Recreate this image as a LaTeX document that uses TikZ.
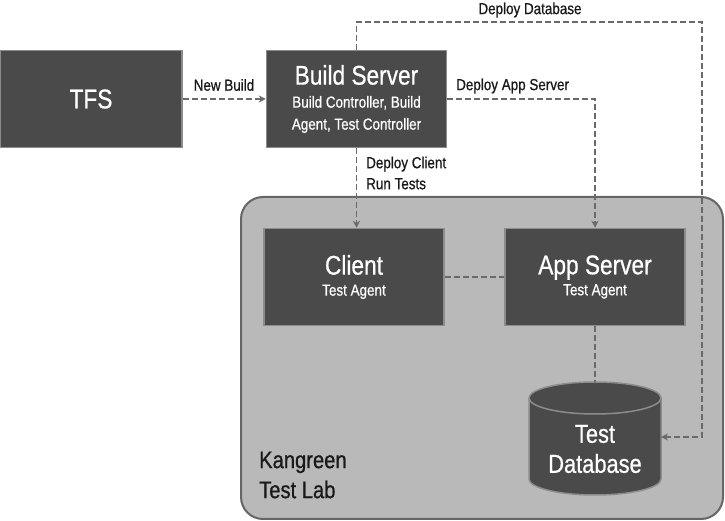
\documentclass[tikz,border=0pt]{standalone}
\usepackage{fontspec}
\setmainfont{Liberation Sans}[FakeStretch=0.84,FakeBold=0.7]
\usetikzlibrary{arrows.meta}

\definecolor{boxfill}{HTML}{4A4A4A}
\definecolor{boxline}{HTML}{8C8C8C}
\definecolor{labfill}{HTML}{B9B9B9}
\definecolor{labline}{HTML}{666666}
\definecolor{flow}{HTML}{6A6A6A}

\begin{document}
\begin{tikzpicture}[
    x=1pt,y=1pt,
    machine/.style={rectangle,draw=boxline,fill=boxfill,line width=1.5pt,
        text=white,align=center,inner sep=0pt,
        minimum width=180pt,minimum height=97pt,
        font=\fontsize{16}{22}\selectfont},
    flowline/.style={draw=flow,line width=1.8pt,dash pattern=on 6pt off 3pt},
    deploy/.style={flowline,-{Stealth[length=7pt,width=7pt]}},
    flow label/.style={inner sep=0pt,text=black!90,
        font=\fontsize{16}{21}\selectfont}
]
    \useasboundingbox (0,0) rectangle (725,521);

    % The lab that holds the test machines.
    \draw[draw=labline,fill=labfill,line width=2pt,rounded corners=22pt]
        (241,2) rectangle (723,324);
    \node[flow label,anchor=west,align=left,
        font=\fontsize{24}{30}\selectfont] (lab) at (259,46)
        {Kangreen\\Test Lab};

    \node[machine,minimum width=182pt] (tfs) at (91,422)
        {\fontsize{27}{27}\selectfont TFS};
    \node[machine] (build) at (356.5,422)
        {{\fontsize{27}{27}\selectfont Build Server}\\[1pt]
         Build Controller, Build\\Agent, Test Controller};
    \node[machine] (client) at (354,244)
        {{\fontsize{27}{27}\selectfont Client}\\[-1pt]Test Agent};
    \node[machine] (app) at (595,244)
        {{\fontsize{27}{27}\selectfont App Server}\\[-1pt]Test Agent};

    % Test database drawn as a cylinder round its text node.
    \filldraw[draw=boxline,fill=boxfill,line width=1.5pt]
        (529,123) -- (529,42) arc[start angle=180,end angle=360,
        x radius=66,y radius=16] -- (661,123)
        arc[start angle=0,end angle=180,x radius=66,y radius=16];
    \draw[boxline,line width=1.5pt] (529,123)
        arc[start angle=180,end angle=360,x radius=66,y radius=16];
    \node[text=white,align=center,font=\fontsize{26}{30}\selectfont]
        (db) at (595,72) {Test\\Database};
    \coordinate (db top) at (595,139);
    \coordinate (db side) at (661,84);

    % Deployment flow from the build server.
    \draw[deploy] (tfs.east) -- (build.west);
    \node[flow label] (new build) at (224,436) {New Build};

    \draw[deploy] (build.east) -| (app.north);
    \node[flow label,anchor=west] (deploy app) at (456,435) {Deploy App Server};

    \draw[deploy] (build.south) -- (build.south |- client.north);
    \node[flow label,anchor=west,align=left] (deploy client) at (366,348)
        {Deploy Client\\Run Tests};

    \coordinate (db corner) at (702,499);
    \draw[deploy] (build.north) |- (db corner) |- (db side);
    \node[flow label] (deploy db) at (530,511) {Deploy Database};

    \foreach \from/\to in {client.east/app.west,app.south/db top}
        \draw[flowline] (\from) -- (\to);
\end{tikzpicture}
\end{document}
